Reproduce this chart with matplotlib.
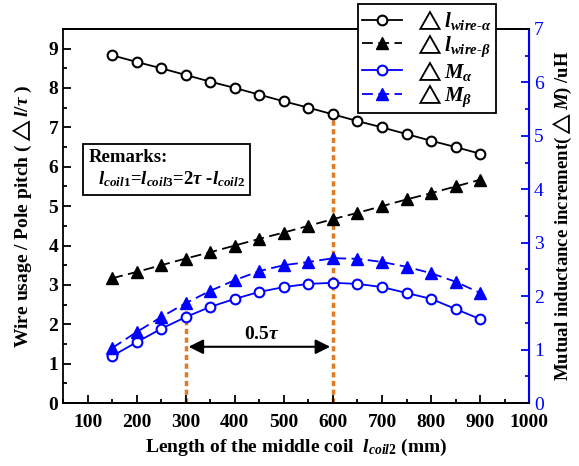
import matplotlib.pyplot as plt
import numpy as np

plt.rcParams['font.family'] = ['Liberation Serif', 'DejaVu Sans']
plt.rcParams['font.weight'] = 'bold'
plt.rcParams['mathtext.fontset'] = 'custom'
plt.rcParams['mathtext.rm'] = 'Liberation Serif:bold'
plt.rcParams['mathtext.it'] = 'Liberation Serif:italic:bold'
plt.rcParams['mathtext.bf'] = 'Liberation Serif:bold'
plt.rcParams['mathtext.fallback'] = 'stix'

# data
l_coil2 = [150, 200, 250, 300, 350, 400, 450, 500, 550, 600, 650, 700, 750, 800, 850, 900]
wire_alpha = [8.83, 8.66, 8.50, 8.33, 8.16, 8.00, 7.83, 7.66, 7.50, 7.33, 7.16, 7.00, 6.83, 6.66, 6.50, 6.33]
wire_beta = [3.17, 3.33, 3.50, 3.67, 3.83, 4.00, 4.17, 4.33, 4.50, 4.67, 4.83, 5.00, 5.17, 5.33, 5.50, 5.67]
M_alpha = [0.88, 1.14, 1.39, 1.61, 1.80, 1.95, 2.08, 2.17, 2.23, 2.25, 2.23, 2.17, 2.06, 1.95, 1.76, 1.57]
M_beta = [1.03, 1.33, 1.61, 1.87, 2.10, 2.30, 2.47, 2.58, 2.64, 2.71, 2.70, 2.64, 2.55, 2.43, 2.27, 2.06]

orange = '#E07B28'
blue = '#0000FF'

fig = plt.figure(figsize=(5.79, 4.66), dpi=100)
ax = fig.add_axes([0.109, 0.135, 0.805, 0.803])
ax2 = ax.twinx()

h1, = ax.plot(l_coil2, wire_alpha, '-o', color='k', mfc='white', ms=7, mew=1.5, lw=1.3,
              label=r'$\triangle l_{wire\text{-}\alpha}$')
h2, = ax.plot(l_coil2, wire_beta, '^', ls=(0, (6, 3)), color='k', ms=8, lw=1.3,
              label=r'$\triangle l_{wire\text{-}\beta}$')
h3, = ax2.plot(l_coil2, M_alpha, '-o', color=blue, mfc='white', ms=7, mew=1.5, lw=1.3,
               label=r'$\triangle M_{\alpha}$')
h4, = ax2.plot(l_coil2, M_beta, '^', ls=(0, (6, 3)), color=blue, ms=8, lw=1.3,
               label=r'$\triangle M_{\beta}$')

# orange guide lines and arrow
ax.plot([300, 300], [0, 2.37], ls=(0, (1.5, 1)), color=orange, lw=2.5, zorder=1)
ax.plot([600, 600], [0, 7.2], ls=(0, (1.5, 1)), color=orange, lw=2.5, zorder=1)
ax.annotate('', xy=(300, 1.43), xytext=(600, 1.43),
            arrowprops=dict(arrowstyle='<|-|>', color='k', lw=1.5, mutation_scale=22))
ax.text(454, 1.53, r'0.5$\tau$', ha='center', va='bottom', fontsize=14, fontweight='bold')

ax.set_xlim(50, 1000)
ax.set_ylim(0, 9.5)
ax2.set_ylim(0, 7)
ax.set_xticks(np.arange(100, 1001, 100))
ax.set_xticks(np.arange(50, 1001, 50), minor=True)
ax.set_yticks(np.arange(0, 10, 1))
ax.set_yticks(np.arange(0, 9.6, 0.5), minor=True)
ax2.set_yticks(np.arange(0, 8, 1))
ax2.set_yticks(np.arange(0, 7.1, 0.5), minor=True)

ax.tick_params(axis='both', which='both', direction='in', labelsize=14, width=1.3)
ax.tick_params(which='major', length=6)
ax.tick_params(which='minor', length=3)
ax.tick_params(axis='x', top=False, which='both', pad=8)
ax.tick_params(axis='y', right=False, which='both')
for lab in ax.get_xticklabels() + ax.get_yticklabels():
    lab.set_fontweight('bold')

ax2.tick_params(axis='y', which='both', direction='in', colors=blue, labelsize=14, width=1.3)
ax2.tick_params(which='major', length=6)
ax2.tick_params(which='minor', length=3)
for lab in ax2.get_yticklabels():
    lab.set_fontweight('normal')
ax2.spines['right'].set_color(blue)
ax2.spines['right'].set_linewidth(1.5)
for s in ['left', 'bottom', 'top']:
    ax.spines[s].set_linewidth(1.3)
    ax2.spines[s].set_linewidth(1.3)
ax2.spines['left'].set_visible(False)

ax.set_xlabel(r'Length of the middle coil  $l_{coil\mathrm{2}}$ (mm)', fontsize=14,
              fontweight='bold', labelpad=4)
ax.set_ylabel(r'Wire usage / Pole pitch ($\triangle l$/$\tau$ )', fontsize=14, fontweight='bold',
              labelpad=10)
ax2.set_ylabel(r'Mutual inductance increment($\triangle M$) /uH', fontsize=13.5, fontweight='bold',
               rotation=90, labelpad=5)

# remarks box
ax.text(0.055, 0.625, 'Remarks:\n' + r'  $l_{coil\mathrm{1}}$=$l_{coil\mathrm{3}}$=2$\tau$ -$l_{coil\mathrm{2}}$',
        transform=ax.transAxes, fontsize=13.5, fontweight='bold', va='center', ha='left',
        linespacing=1.25,
        bbox=dict(boxstyle='square,pad=0.3', fc='white', ec='k', lw=1.3))

leg = fig.legend(handles=[h1, h2, h3, h4], loc='upper left',
                 bbox_to_anchor=(358 / 579, 1 - 4 / 466), fontsize=15, borderaxespad=0,
                 frameon=True, fancybox=False, edgecolor='k', framealpha=1,
                 handlelength=1.9, borderpad=0.2, labelspacing=0.0, handletextpad=0.6)
leg.get_frame().set_linewidth(1.3)

fig.savefig('out.png', dpi=100)
